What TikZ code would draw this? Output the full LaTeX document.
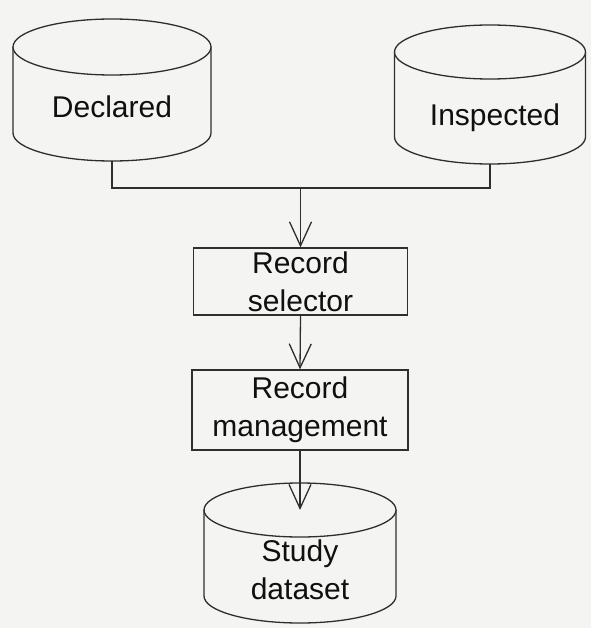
\documentclass[tikz,border=0pt]{standalone}
\usepackage{fontspec}
\setmainfont{Liberation Sans}
\usetikzlibrary{arrows.meta}
\definecolor{paper}{HTML}{F4F4F2}
\definecolor{ink}{HTML}{2E2E2E}
\definecolor{txt}{HTML}{101010}

% database cylinder: name, centre x, top-ellipse centre y, rx, ry, y where the sides end
\newcommand{\dbcyl}[6]{%
  \draw[cylline] (#2-#4,#3) -- (#2-#4,#6) arc[start angle=180,end angle=360,x radius=#4,y radius=-#5] -- (#2+#4,#3);
  \draw[cylline] (#2,#3) ellipse[x radius=#4,y radius=#5];
  \coordinate (#1-top) at (#2,#3);
  \coordinate (#1-bot) at (#2,#6+#5);
}

\begin{document}
\begin{tikzpicture}[x=1pt,y=-1pt,
  cylline/.style={draw=ink,line width=1.3pt,fill=paper},
  label/.style={text=txt,font=\fontsize{30}{38}\selectfont,align=center,inner sep=0pt},
  procbox/.style={draw=ink,line width=1.3pt,fill=paper,minimum width=214pt,inner sep=0pt,
    text=txt,font=\fontsize{30}{38}\selectfont,align=center},
  wire/.style={draw=ink,line width=1.3pt},
  flow/.style={wire,-{Straight Barb[length=24pt,width=22pt,line width=1.3pt]}}]

\fill[paper] (0,0) rectangle (591,628);
\useasboundingbox (0,0) rectangle (591,628);

% source stores
\dbcyl{decl}{112}{47}{99}{28}{133}
\node[label] (declared) at (112,107) {Declared};
\dbcyl{insp}{490}{52}{95.5}{27}{137}
\node[label] (inspected) at (495,118) {Inspected};

% processing steps
\node[procbox,minimum height=67pt] (selector) at (300.5,281.5) {Record\\selector};
\node[procbox,minimum height=80pt,minimum width=216pt] (mgmt) at (300,410) {Record\\management};

% target store
\dbcyl{study}{300}{510}{96}{27}{596}
\node[label] (study) at (300,570) {Study\\dataset};

% merge of both sources
\coordinate (join) at (selector.north |- 0,188);
\draw[wire] (decl-bot) |- (join) -| (insp-bot);
\draw[flow] (join) -- (selector.north);
\draw[flow] (selector.south) -- (mgmt.north);
\coordinate (studyin) at (mgmt.south |- 0,510);
\draw[flow] (mgmt.south) -- (studyin);
\end{tikzpicture}
\end{document}
